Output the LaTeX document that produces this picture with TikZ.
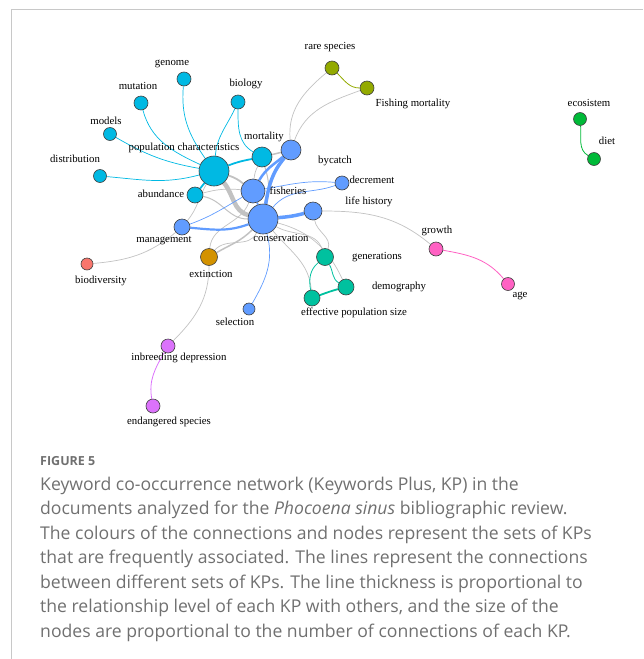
\documentclass[tikz,border=0pt]{standalone}
\usepackage{fontspec}
\setmainfont{Liberation Serif}
\newfontfamily\capfont{Open Sans}
\usetikzlibrary{positioning, backgrounds}

\definecolor{kred}{HTML}{F8766D}
\definecolor{kgold}{HTML}{D39200}
\definecolor{kolive}{HTML}{93AA00}
\definecolor{kgreen}{HTML}{00BA38}
\definecolor{kteal}{HTML}{00C19F}
\definecolor{kcyan}{HTML}{00B9E3}
\definecolor{kblue}{HTML}{619CFF}
\definecolor{kviolet}{HTML}{DB72FB}
\definecolor{kpink}{HTML}{FF61C3}
\definecolor{linkgray}{HTML}{C2C2C2}
\definecolor{framegray}{HTML}{C8C8C8}
\definecolor{captext}{HTML}{707070}

\begin{document}
\begin{tikzpicture}[x=1pt, y=-1pt,
  kw/.style={circle, draw=black!75, line width=0.6pt, inner sep=0pt, minimum size=#1},
  kw/.default=14pt,
  lbl/.style={font=\fontsize{10.8}{13}\selectfont, inner sep=0pt},
  tie/.style={linkgray, line width=#1},
  tie/.default=0.7pt]
\useasboundingbox (0,0) rectangle (643,659);

% Frame
\draw[framegray, line width=1pt] (11,659) -- (11,9) -- (643,9);

% Cyan cluster
\node[kw=30pt, fill=kcyan] (popchar) at (214,171) {};
\node[kw=16pt, fill=kcyan] (abund) at (195,195) {};
\node[kw=20pt, fill=kcyan] (mortal) at (262,157) {};
\node[kw, fill=kcyan] (genome) at (184,79) {};
\node[kw, fill=kcyan] (mutat) at (141,103) {};
\node[kw, fill=kcyan] (biol) at (238,102) {};
\node[kw=13pt, fill=kcyan] (models) at (110,134) {};
\node[kw=13pt, fill=kcyan] (distr) at (100,176) {};

% Blue cluster
\node[kw=20pt, fill=kblue] (bycatch) at (291,150) {};
\node[kw=24pt, fill=kblue] (fisher) at (253,191) {};
\node[kw=30pt, fill=kblue] (conserv) at (263,219) {};
\node[kw, fill=kblue] (decrem) at (342,183) {};
\node[kw=18pt, fill=kblue] (lifehist) at (313,211) {};
\node[kw=16pt, fill=kblue] (manage) at (182,227) {};
\node[kw=12pt, fill=kblue] (select) at (249,309) {};

% Small clusters
\node[kw=17pt, fill=kteal] (gener) at (325,257) {};
\node[kw=16pt, fill=kteal] (demog) at (346,287) {};
\node[kw=16pt, fill=kteal] (effect) at (312,298) {};
\node[kw=17pt, fill=kgold] (extinct) at (209,257) {};
\node[kw=12pt, fill=kred] (biodiv) at (87,264) {};
\node[kw, fill=kolive] (rare) at (332,68) {};
\node[kw, fill=kolive] (fishmort) at (367,88) {};
\node[kw, fill=kpink] (growth) at (436,249) {};
\node[kw=13pt, fill=kpink] (age) at (508,284) {};
\node[kw, fill=kviolet] (inbreed) at (168,346) {};
\node[kw, fill=kviolet] (endang) at (153,406) {};
\node[kw=13pt, fill=kgreen] (ecosis) at (580,119) {};
\node[kw=13pt, fill=kgreen] (diet) at (594,159) {};

% Labels
\node[lbl] (lgenome) at (172,64) {genome};
\node[lbl] (lmutat) at (138,86) {mutation};
\node[lbl] (lbiol) at (246,84) {biology};
\node[lbl] (lmodels) at (106,121) {models};
\node[lbl] (ldistr) at (75,159) {distribution};
\node[lbl] (lpopchar) at (184,148) {population characteristics};
\node[lbl] (labund) at (161,194) {abundance};
\node[lbl] (lmortal) at (264,137) {mortality};
\node[lbl] (lbycatch) at (335,161) {bycatch};
\node[lbl] (lfisher) at (288,191) {fisheries};
\node[lbl] (ldecrem) at (372,180) {decrement};
\node[lbl] (llifehist) at (369,202) {life history};
\node[lbl] (lconserv) at (281,238) {conservation};
\node[lbl] (lmanage) at (164,241) {management};
\node[lbl] (lextinct) at (211,274) {extinction};
\node[lbl] (lbiodiv) at (101,281) {biodiversity};
\node[lbl] (lselect) at (235,322) {selection};
\node[lbl] (lgener) at (377,257) {generations};
\node[lbl] (ldemog) at (399,287) {demography};
\node[lbl] (leffect) at (354,313) {effective population size};
\node[lbl] (lgrowth) at (437,231) {growth};
\node[lbl] (lage) at (520,296) {age};
\node[lbl] (lrare) at (330,47) {rare species};
\node[lbl] (lfishmort) at (413,104) {Fishing mortality};
\node[lbl] (lecosis) at (589,103) {ecosistem};
\node[lbl] (ldiet) at (607,141) {diet};
\node[lbl] (linbreed) at (179,358) {inbreeding depression};
\node[lbl] (lendang) at (169,422) {endangered species};

\begin{scope}[on background layer]
% Links between clusters
\draw[tie=4.5pt] (popchar) to[out=-50,in=165] (conserv);
\draw[tie=1.8pt] (popchar) to[bend left=10] (fisher);
\draw[tie=1.5pt] (mortal) -- (bycatch);
\draw[tie=1pt] (mortal) to[bend left=15] (conserv);
\draw[tie] (mortal) to[bend right=10] (fisher);
\draw[tie=1pt] (abund) to[out=-10,in=180] (conserv);
\draw[tie] (abund) to[bend left=10] (fisher);
\draw[tie] (manage) to[out=50,in=-120] (popchar);
\draw[tie=1.5pt] (extinct) to[out=30,in=-135] (conserv);
\draw[tie] (extinct) to[out=50,in=-115] (conserv);
\draw[tie] (extinct) to[out=85,in=-110] (fisher);
\draw[tie] (extinct) to[out=-90,in=45] (inbreed);
\draw[tie] (biodiv) to[out=5,in=-140] (manage);
\draw[tie] (bycatch) to[out=95,in=-140] (rare);
\draw[tie] (bycatch) to[out=70,in=200] (fishmort);
\draw[tie] (lifehist) to[out=0,in=140] (growth);
\draw[tie] (conserv) to[out=-30,in=110] (gener);
\draw[tie] (lifehist) to[out=-80,in=70] (gener);
\draw[tie] (conserv) to[out=-50,in=95] (effect);
\draw[tie] (conserv) to[out=-15,in=115] (demog);

% Links inside clusters
\draw[kcyan, line width=0.7pt] (genome) to[out=-95,in=125] (popchar);
\draw[kcyan, line width=0.7pt] (mutat) to[out=-75,in=155] (popchar);
\draw[kcyan, line width=0.7pt] (models) to[out=-30,in=170] (popchar);
\draw[kcyan, line width=0.7pt] (distr) to[out=-5,in=195] (popchar);
\draw[kcyan, line width=0.7pt] (biol) to[out=-115,in=85] (popchar);
\draw[kcyan, line width=0.7pt] (biol) to[out=-90,in=150] (mortal);
\draw[kcyan, line width=1.8pt] (popchar) -- (abund);
\draw[kcyan, line width=1.8pt] (popchar) to[bend left=5] (mortal);
\draw[kblue, line width=3.5pt] (bycatch) to[out=-130,in=80] (conserv);
\draw[kblue, line width=2.5pt] (bycatch) to[out=-140,in=60] (fisher);
\draw[kblue, line width=1.8pt] (fisher) -- (conserv);
\draw[kblue, line width=3.5pt] (conserv) to[out=5,in=195] (lifehist);
\draw[kblue, line width=2.2pt] (manage) to[out=-5,in=200] (conserv);
\draw[kblue, line width=0.7pt] (manage) to[out=20,in=210] (fisher);
\draw[kblue, line width=0.7pt] (fisher) to[out=10,in=175] (decrem);
\draw[kblue, line width=0.7pt] (conserv) to[out=50,in=200] (decrem);
\draw[kblue, line width=0.7pt] (conserv) to[out=-75,in=60] (select);
\draw[kteal, line width=0.8pt] (gener) to[out=-140,in=100] (effect);
\draw[kteal, line width=0.8pt] (gener) to[out=-60,in=150] (demog);
\draw[kteal, line width=1.8pt] (effect) to[out=20,in=195] (demog);
\draw[kolive, line width=0.8pt] (rare) to[out=-45,in=180] (fishmort);
\draw[kpink, line width=0.8pt] (growth) to[out=-10,in=130] (age);
\draw[kviolet, line width=0.8pt] (inbreed) to[out=-120,in=100] (endang);
\draw[kgreen, line width=0.8pt] (ecosis) to[out=-85,in=150] (diet);
\end{scope}

% Caption
\node[anchor=base west, inner sep=0pt, text=captext, font=\capfont\bfseries\fontsize{12.5}{15}\selectfont] (figno) at (40,465) {FIGURE 5};
\foreach \txt [count=\i from 0] in {
  {Keyword co-occurrence network (Keywords Plus, KP) in the},
  {documents analyzed for the \textit{Phocoena sinus} bibliographic review.},
  {The colours of the connections and nodes represent the sets of KPs},
  {that are frequently associated. The lines represent the connections},
  {between different sets of KPs. The line thickness is proportional to},
  {the relationship level of each KP with others, and the size of the},
  {nodes are proportional to the number of connections of each KP.}} {
  \node[anchor=base west, inner sep=0pt, text=captext, font=\capfont\fontsize{17.6}{21}\selectfont] (cap\i) at (40,{490+24.5*\i}) {\txt};
}
\end{tikzpicture}
\end{document}
